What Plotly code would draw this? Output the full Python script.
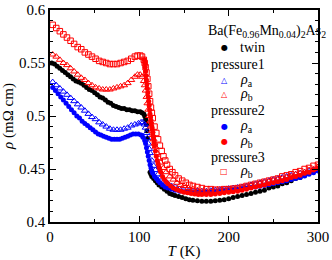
import plotly.graph_objects as go

# ---------------- data ----------------
T_twin = [2, 5, 8, 11, 14, 17, 20, 23, 26, 29, 32, 35, 38, 41, 44, 47, 50, 53, 56, 59, 62, 65, 68, 71, 74, 77, 80,
          83, 86, 89, 92, 95, 98, 101, 103, 105, 106, 107, 107.5, 108, 108.5, 109,
          112, 113, 114, 116, 118, 120, 122, 125, 128, 131, 134, 137, 140, 144, 148, 152, 156, 160, 165, 170, 175,
          180, 185, 190, 195, 200, 205, 210, 215, 220, 225, 230, 235, 240, 245, 250, 255, 260, 265, 270, 275, 280,
          285, 290, 295, 300]
rho_twin = [0.550, 0.549, 0.547, 0.545, 0.543, 0.541, 0.539, 0.537, 0.535, 0.533, 0.532, 0.531, 0.529, 0.527, 0.525,
            0.524, 0.522, 0.520, 0.518, 0.517, 0.515, 0.513, 0.512, 0.510, 0.509, 0.508, 0.507, 0.507, 0.506, 0.506,
            0.505, 0.505, 0.504, 0.504, 0.503, 0.502, 0.500, 0.497, 0.495, 0.492, 0.486, 0.479,
            0.447, 0.445, 0.443, 0.441, 0.439, 0.437, 0.435, 0.433, 0.431, 0.429, 0.427, 0.426, 0.425, 0.424, 0.423,
            0.422, 0.421, 0.4205, 0.420, 0.4195, 0.4195, 0.4195, 0.420, 0.4205, 0.421, 0.422, 0.423, 0.424, 0.425,
            0.426, 0.427, 0.428, 0.429, 0.430, 0.432, 0.433, 0.434, 0.436, 0.437, 0.439, 0.441, 0.442, 0.444, 0.446,
            0.448, 0.450]

T_p1a = [3, 7, 11, 15, 19, 23, 27, 31, 35, 39, 43, 47, 51, 55, 59, 63, 67, 71, 75, 79, 83, 87, 91, 95, 99, 102, 104,
         106, 107, 108, 109, 110, 111, 112, 114, 116, 118, 121, 124, 128, 132, 136, 140, 145, 150, 155, 160, 165, 170,
         175, 180, 185, 190, 195, 200, 205, 210, 215, 220, 225, 230, 235, 240, 245, 250, 255, 260, 265, 270, 275, 280,
         285, 290, 295, 300]
rho_p1a = [0.532, 0.529, 0.526, 0.523, 0.520, 0.517, 0.514, 0.511, 0.508, 0.505, 0.502, 0.499, 0.497, 0.494, 0.492,
           0.490, 0.488, 0.487, 0.487, 0.487, 0.488, 0.489, 0.491, 0.492, 0.493, 0.494, 0.494,
           0.492, 0.489, 0.484, 0.479, 0.474, 0.469, 0.465, 0.458, 0.453, 0.449, 0.445, 0.442, 0.439, 0.436, 0.434,
           0.433, 0.431, 0.430, 0.4295, 0.429, 0.429, 0.429, 0.429, 0.4295, 0.430, 0.4305, 0.431, 0.4315, 0.432,
           0.4325, 0.433, 0.434, 0.435, 0.436, 0.437, 0.438, 0.439, 0.440, 0.441, 0.442, 0.443, 0.444, 0.445, 0.446,
           0.447, 0.448, 0.449, 0.450]

T_p1b = [3, 7, 11, 15, 19, 23, 27, 31, 35, 39, 43, 47, 51, 55, 59, 63, 67, 71, 75, 79, 83, 87, 91, 95, 98, 101, 103,
         105, 106, 107, 108, 109, 110, 111, 112, 113, 114, 115, 116, 117, 118, 120, 122, 124, 127, 130, 134, 138, 142,
         146, 150, 155, 160, 165, 170, 175, 180, 185, 190, 195, 200, 205, 210, 215, 220, 225, 230, 235, 240, 245, 250,
         255, 260, 265, 270, 275, 280, 285, 290, 295, 300]
rho_p1b = [0.558, 0.556, 0.553, 0.550, 0.548, 0.545, 0.542, 0.539, 0.536, 0.534, 0.531, 0.529, 0.527, 0.526, 0.525,
           0.525, 0.525, 0.526, 0.527, 0.528, 0.529, 0.531, 0.534, 0.537, 0.539, 0.539, 0.537,
           0.533, 0.529, 0.524, 0.518, 0.512, 0.506, 0.500, 0.495, 0.490, 0.486, 0.482, 0.478, 0.474, 0.471, 0.465,
           0.460, 0.456, 0.451, 0.447, 0.443, 0.440, 0.437, 0.435, 0.434, 0.432, 0.431, 0.430, 0.429, 0.4285, 0.4285,
           0.4285, 0.429, 0.4295, 0.430, 0.4305, 0.431, 0.432, 0.433, 0.434, 0.435, 0.436, 0.437, 0.438, 0.439,
           0.440, 0.441, 0.442, 0.443, 0.445, 0.446, 0.447, 0.449, 0.450, 0.452]

T_p2a = [3, 6, 9, 12, 15, 18, 21, 24, 27, 30, 33, 36, 39, 42, 45, 48, 51, 54, 57, 60, 63, 66, 69, 72, 75, 78, 81, 84,
         87, 90, 93, 96, 99, 102, 104, 106, 107, 108, 109, 110, 111, 112, 113, 114, 115, 117, 119, 121, 123, 126, 129,
         132, 136, 140, 145, 150, 155, 160, 165, 170, 175, 180, 185, 190, 195, 200, 205, 210, 215, 220, 225, 230, 235,
         240, 245, 250, 255, 260, 265, 270, 275, 280, 285, 290, 295, 300]
rho_p2a = [0.527, 0.524, 0.521, 0.518, 0.515, 0.512, 0.509, 0.506, 0.503, 0.500, 0.498, 0.495, 0.493, 0.491, 0.489,
           0.487, 0.485, 0.483, 0.482, 0.481, 0.480, 0.479, 0.478, 0.478, 0.478, 0.478, 0.479, 0.480, 0.481, 0.482,
           0.483, 0.483, 0.483, 0.482, 0.480, 0.477, 0.474, 0.470, 0.466, 0.462, 0.458, 0.454, 0.451, 0.448, 0.446,
           0.443, 0.441, 0.439, 0.437, 0.435, 0.433, 0.432, 0.431, 0.430, 0.429, 0.4285, 0.428, 0.428, 0.428, 0.428,
           0.428, 0.4285, 0.429, 0.4295, 0.430, 0.4305, 0.4307, 0.431, 0.4315, 0.432, 0.4325, 0.433, 0.4337, 0.4345,
           0.4352, 0.436, 0.437, 0.438, 0.439, 0.440, 0.441, 0.442, 0.4435, 0.445, 0.4465, 0.448]

T_p2b = [105.5, 106, 106.5, 107, 107.5, 108, 108.5, 109, 109.5, 110, 110.5, 111, 111.5, 112, 112.5, 113, 113.5, 114,
         114.5, 115, 115.5, 116, 116.5, 117, 118, 119, 120, 121, 122, 123, 124, 126, 128, 130, 132, 135, 138, 141, 144,
         147, 150, 154, 158, 162, 166, 170, 175, 180, 185, 190, 195, 200, 205, 210, 215, 220, 225, 230, 235, 240, 245,
         250, 255, 260, 265, 270, 275, 280, 285, 290, 295, 300]
rho_p2b = [0.553, 0.550, 0.546, 0.542, 0.538, 0.534, 0.530, 0.526, 0.522, 0.518, 0.514, 0.510, 0.506, 0.502, 0.499,
           0.496, 0.493, 0.490, 0.487, 0.484, 0.481, 0.478, 0.475, 0.472, 0.467, 0.462, 0.458, 0.455, 0.452, 0.449,
           0.447, 0.443, 0.440, 0.438, 0.436, 0.434, 0.432, 0.431, 0.430, 0.429, 0.428, 0.4275, 0.427, 0.4265, 0.426,
           0.426, 0.426, 0.426, 0.4265, 0.427, 0.4275, 0.428, 0.4285, 0.429, 0.430, 0.431, 0.432, 0.433, 0.434, 0.435,
           0.436, 0.437, 0.438, 0.439, 0.440, 0.442, 0.443, 0.444, 0.446, 0.447, 0.449, 0.451]

T_p3b = [3, 7, 11, 15, 19, 23, 27, 31, 35, 39, 43, 47, 51, 55, 59, 63, 67, 71, 75, 79, 83, 87, 91, 95, 98, 101, 103,
         105, 106, 107, 108, 109, 110, 111, 112, 113, 114, 115, 117, 119, 121, 123, 125, 127, 129, 131, 134, 137, 140,
         144, 148, 152, 156, 160, 165, 170, 175, 180, 185, 190, 195, 200, 205, 210, 215, 220, 225, 230, 235, 240, 245,
         250, 255, 260, 265, 270, 275, 280, 285, 290, 295, 300]
rho_p3b = [0.586, 0.583, 0.580, 0.577, 0.574, 0.571, 0.568, 0.565, 0.563, 0.560, 0.558, 0.556, 0.554, 0.552, 0.551,
           0.550, 0.549, 0.549, 0.549, 0.550, 0.551, 0.552, 0.554, 0.556, 0.557, 0.557, 0.556,
           0.553, 0.550, 0.546, 0.541, 0.535, 0.528, 0.521, 0.514, 0.508, 0.503, 0.498, 0.490, 0.484, 0.478, 0.472,
           0.467, 0.462, 0.458, 0.454, 0.450, 0.447, 0.444, 0.441, 0.439, 0.437, 0.435, 0.434, 0.433, 0.432, 0.431,
           0.431, 0.4305, 0.4305, 0.431, 0.431, 0.4315, 0.432, 0.433, 0.434, 0.435, 0.436, 0.437, 0.438, 0.439,
           0.440, 0.441, 0.443, 0.444, 0.445, 0.447, 0.448, 0.450, 0.451, 0.453, 0.454]

x_ticks = [0, 100, 200, 300]
y_ticks = [0.4, 0.45, 0.5, 0.55, 0.6]
y_tick_labels = ["0.4", "0.45", "0.5", "0.55", "0.6"]

legend_title = "Ba(Fe<sub>0.96</sub>Mn<sub>0.04</sub>)<sub>2</sub>As<sub>2</sub>"

BLUE = "#0000ff"
RED = "#ff0000"
SERIF = "Liberation Serif, DejaVu Serif, serif"

fig = go.Figure()

def add(x, y, symbol, color, size, lw=1.0):
    fig.add_trace(go.Scatter(
        x=x, y=y, mode="markers", showlegend=False,
        marker=dict(symbol=symbol, color=color, size=size,
                    line=dict(color=color, width=lw)),
        hoverinfo="skip"))

add(T_twin, rho_twin, "circle", "black", 5, 0)
add(T_p2a, rho_p2a, "circle", BLUE, 5, 0)
add(T_p1a, rho_p1a, "triangle-up-open", BLUE, 6)
add(T_p2b, rho_p2b, "circle", RED, 5, 0)
add(T_p1b, rho_p1b, "triangle-up-open", RED, 6)
add(T_p3b, rho_p3b, "square-open", RED, 5.5)

# ---------------- legend made of text ----------------
L, R, TOP, BOT = 50, 318, 10, 222
def px(xp):
    return (xp - L) / (R - L)
def py(yp):
    return (BOT - yp) / (BOT - TOP)

ann = []
def txt(x, y, s, size=14, color="black", family=SERIF, anchor="left"):
    ann.append(dict(x=px(x), y=py(y), xref="paper", yref="paper", text=s, showarrow=False,
                    xanchor=anchor, yanchor="middle", font=dict(family=family, size=size, color=color)))

txt(206, 32, legend_title)
rows = [
    ("sym", 48, "●", "black", "twin"),
    ("grp", 64, "pressure1"),
    ("sym", 80, "△", BLUE, "<i>ρ</i><sub>a</sub>"),
    ("sym", 94, "△", RED, "<i>ρ</i><sub>b</sub>"),
    ("grp", 110, "pressure2"),
    ("sym", 126, "●", BLUE, "<i>ρ</i><sub>a</sub>"),
    ("sym", 141, "●", RED, "<i>ρ</i><sub>b</sub>"),
    ("grp", 157, "pressure3"),
    ("sym", 171, "□", RED, "<i>ρ</i><sub>b</sub>"),
]
for r in rows:
    if r[0] == "grp":
        txt(209, r[1], r[2])
    else:
        txt(224, r[1], r[2], size=8, color=r[3], family="DejaVu Sans", anchor="center")
        txt(238, r[1], r[4])

axis_common = dict(
    showline=True, linecolor="black", linewidth=1.5, mirror="ticks",
    ticks="inside", ticklen=6, tickwidth=1.2, tickcolor="black",
    showgrid=False, zeroline=False, automargin=False,
    tickfont=dict(family=SERIF, size=15, color="black"),
)

fig.update_layout(
    width=332, height=260,
    margin=dict(l=L, r=332 - R, t=TOP, b=260 - BOT, autoexpand=False),
    paper_bgcolor="white", plot_bgcolor="white",
    font=dict(family=SERIF, color="black"),
    showlegend=False,
    annotations=ann,
    xaxis=dict(range=[0, 300], tickvals=x_ticks, ticktext=[str(v) for v in x_ticks],
               minor=dict(dtick=50, ticks="inside", ticklen=3.5, tickcolor="black", tickwidth=1),
               title=dict(text="<i>T</i> (K)", font=dict(family=SERIF, size=15, color="black"), standoff=5),
               **axis_common),
    yaxis=dict(range=[0.4, 0.6], tickvals=y_ticks, ticktext=y_tick_labels,
               minor=dict(dtick=0.01, ticks="inside", ticklen=3.5, tickcolor="black", tickwidth=1),
               title=dict(text="<i>ρ</i> (mΩ cm)", font=dict(family=SERIF, size=15, color="black"), standoff=2),
               **axis_common),
)

fig.write_html("out.html", config={"displayModeBar": False},
               post_script="document.body.style.margin='0';document.body.style.overflow='hidden';")
